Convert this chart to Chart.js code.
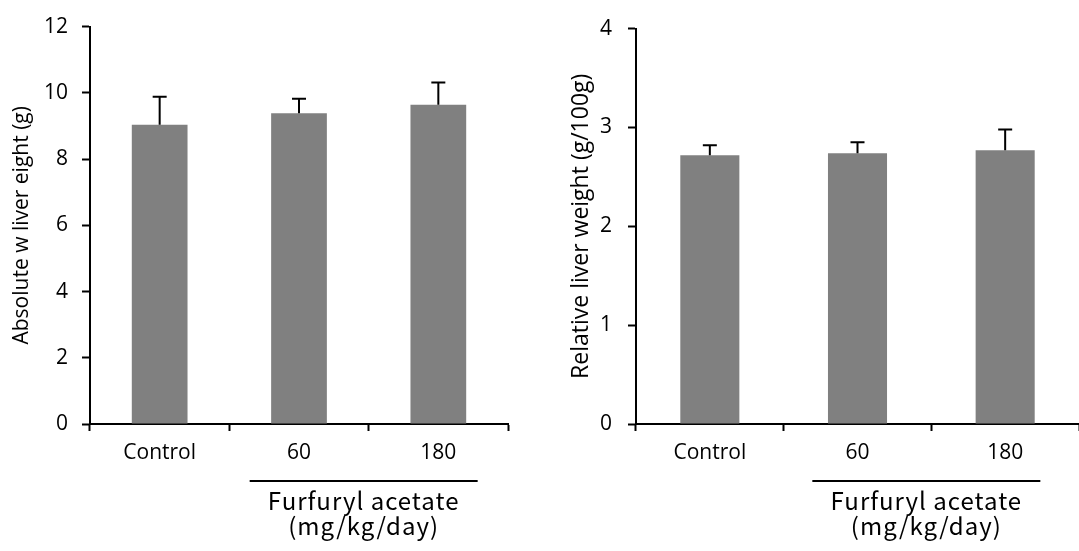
<!DOCTYPE html>
<html>
<head>
<meta charset="utf-8">
<script src="https://cdn.jsdelivr.net/npm/chart.js@4"></script>
<style>
  body { margin: 0; background: #fff; }
  #wrap { position: relative; width: 1079px; height: 551px; }
  .box { position: absolute; top: 0; height: 551px; }
</style>
</head>
<body>
<div id="wrap">
  <div class="box" style="left:0;width:540px"><canvas id="canvasAbs"></canvas></div>
  <div class="box" style="left:540px;width:539px"><canvas id="canvasRel"></canvas></div>
</div>
<script>
"use strict";

// data
var groups = ['Control', '60', '180'];
var absMeans = [9.04, 9.38, 9.64];
var absSD = [0.84, 0.44, 0.67];
var relMeans = [2.72, 2.74, 2.77];
var relSD = [0.10, 0.11, 0.21];
var absTitle = 'Absolute w liver eight (g)';
var relTitle = 'Relative liver weight (g/100g)';
var doseLabel = ['Furfuryl acetate', '(mg/kg/day)'];

var tickFont = { family: 'Open Sans', size: 21 };

// error bars drawn from the y scale
var errorBars = {
	id: 'errorBars',
	afterDatasetsDraw: function (chart) {
		var ctx = chart.ctx;
		var meta = chart.getDatasetMeta(0);
		var sd = chart.options.plugins.errorBars.sd;
		var y = chart.scales.y;
		ctx.save();
		ctx.strokeStyle = '#000';
		ctx.lineWidth = 2;
		meta.data.forEach(function (bar, i) {
			var v = chart.data.datasets[0].data[i];
			var top = y.getPixelForValue(v + sd[i]);
			ctx.beginPath();
			ctx.moveTo(bar.x, bar.y);
			ctx.lineTo(bar.x, top);
			ctx.moveTo(bar.x - 7, top);
			ctx.lineTo(bar.x + 7, top);
			ctx.stroke();
		});
		ctx.restore();
	}
};

// group line + dose label under the two treated groups
var doseGroup = {
	id: 'doseGroup',
	afterDraw: function (chart) {
		var ctx = chart.ctx;
		var x = chart.scales.x;
		var mid = (x.getPixelForValue(1) + x.getPixelForValue(2)) / 2 - 5;
		var base = chart.chartArea.bottom;
		ctx.save();
		ctx.strokeStyle = '#000';
		ctx.lineWidth = 2;
		ctx.beginPath();
		ctx.moveTo(mid - 114, base + 57);
		ctx.lineTo(mid + 114, base + 57);
		ctx.stroke();
		ctx.fillStyle = '#000';
		ctx.font = '24px "Noto Sans CJK JP"';
		ctx.letterSpacing = '1px';
		ctx.textAlign = 'center';
		ctx.textBaseline = 'alphabetic';
		ctx.fillText(doseLabel[0], mid, base + 86);
		ctx.fillText(doseLabel[1], mid, base + 111);
		ctx.restore();
	}
};

function MakeChart(canvasId, means, sd, yMax, yStep, title, titleSize, axisWidth, rightPad, titlePad, labelPad) {
	return new Chart(document.getElementById(canvasId), {
		type: 'bar',
		data: {
			labels: groups,
			datasets: [{
				data: means,
				backgroundColor: '#808080',
				borderWidth: 0,
				categoryPercentage: 1,
				barPercentage: 0.4
			}]
		},
		options: {
			responsive: true,
			maintainAspectRatio: false,
			animation: false,
			layout: { padding: { top: 23, right: rightPad, left: 0, bottom: 0 } },
			plugins: {
				legend: { display: false },
				tooltip: { enabled: false },
				errorBars: { sd: sd }
			},
			scales: {
				x: {
					offset: true,
					border: { color: '#000', width: 2 },
					grid: { offset: true, drawOnChartArea: false, drawTicks: true, tickLength: 7, tickColor: '#000', tickWidth: 2 },
					ticks: { color: '#000', font: tickFont, padding: 9 },
					afterFit: function (s) { s.height = 127; }
				},
				y: {
					min: 0,
					max: yMax,
					border: { color: '#000', width: 2 },
					grid: { drawOnChartArea: false, drawTicks: true, tickLength: 8, tickColor: '#000', tickWidth: 2 },
					ticks: { stepSize: yStep, color: '#000', font: tickFont, padding: labelPad },
					title: { display: true, text: title, color: '#000', font: { family: 'Open Sans', size: titleSize }, padding: { top: titlePad, bottom: 0 } },
					afterFit: function (s) { s.width = axisWidth; }
				}
			}
		},
		plugins: [errorBars, doseGroup]
	});
}

MakeChart('canvasAbs', absMeans, absSD, 12, 2, absTitle, 21, 90, 32, 9, 14);
MakeChart('canvasRel', relMeans, relSD, 4, 1, relTitle, 23, 96, 0, 28, 16);
</script>
</body>
</html>
